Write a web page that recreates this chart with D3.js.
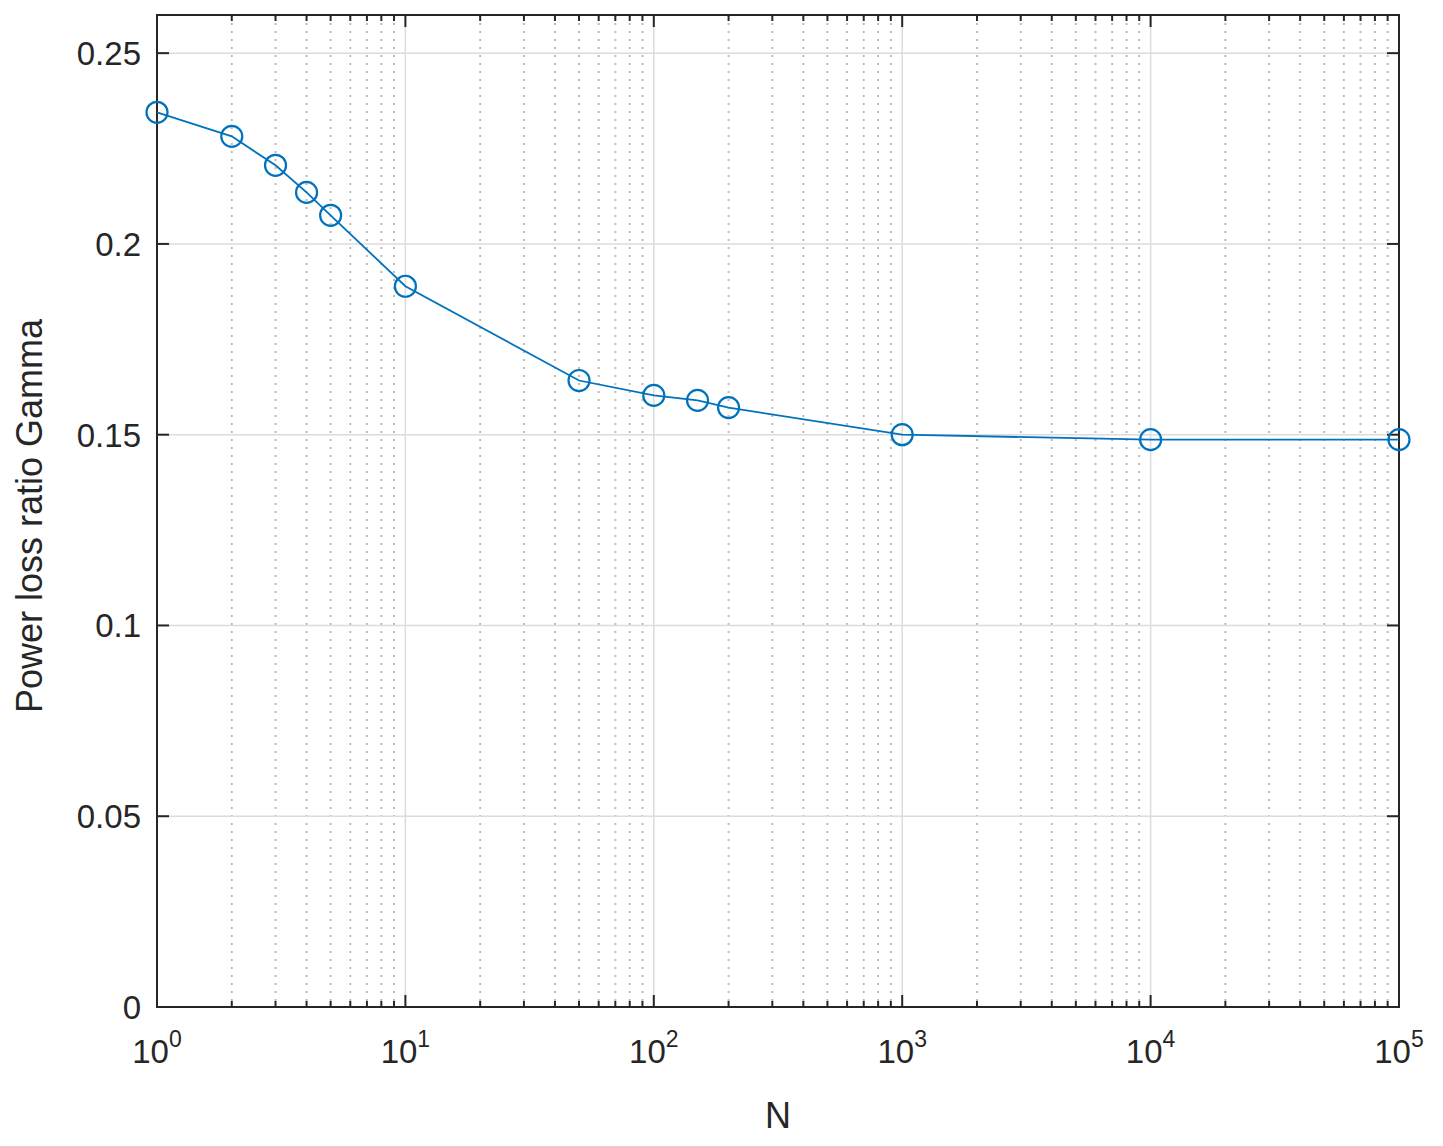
<!DOCTYPE html><html><head><meta charset="utf-8">
<script src="https://cdn.jsdelivr.net/npm/d3@7"></script>
<style>body{margin:0;background:#fff}text{font-family:"Liberation Sans",Arial,sans-serif;fill:#262626}</style></head><body>
<svg id="c" width="1443" height="1146"></svg>
<script>
const nValues=[1,2,3,4,5,10,50,100,150,200,1000,10000,100000];
const gammaValues=[0.2345,0.2282,0.2206,0.2135,0.2075,0.1889,0.1642,0.1603,0.1590,0.1571,0.1500,0.1487,0.1487];
const yTicks=[0,0.05,0.1,0.15,0.2,0.25];
const yTickLabels=["0","0.05","0.1","0.15","0.2","0.25"];
const xMajor=[1,10,100,1000,10000,100000];
const L=157,R=1399,T=15,B=1007;
const svg=d3.select("#c");
const x=d3.scaleLog().domain([1,1e5]).range([L,R]);
const y=d3.scaleLinear().domain([0,0.26]).range([B,T]);
const g=svg.append("g");
const minor=[];for(let e=0;e<5;e++)for(let k=2;k<=9;k++)minor.push(k*10**e);
g.selectAll(".mn").data(minor).join("line").attr("x1",d=>x(d)).attr("x2",d=>x(d)).attr("y1",T).attr("y2",B).attr("stroke","#bbbbbb").attr("stroke-width",2).attr("stroke-dasharray","2,6");
g.selectAll(".mx").data(xMajor).join("line").attr("x1",d=>x(d)).attr("x2",d=>x(d)).attr("y1",T).attr("y2",B).attr("stroke","#dcdcdc").attr("stroke-width",1.5);
g.selectAll(".my").data(yTicks).join("line").attr("y1",d=>y(d)).attr("y2",d=>y(d)).attr("x1",L).attr("x2",R).attr("stroke","#dcdcdc").attr("stroke-width",1.5);
const tk=svg.append("g").attr("stroke","#262626").attr("stroke-width",2);
xMajor.forEach(v=>{tk.append("line").attr("x1",x(v)).attr("x2",x(v)).attr("y1",B).attr("y2",B-12);tk.append("line").attr("x1",x(v)).attr("x2",x(v)).attr("y1",T).attr("y2",T+12);});
minor.forEach(v=>{tk.append("line").attr("x1",x(v)).attr("x2",x(v)).attr("y1",B).attr("y2",B-6);tk.append("line").attr("x1",x(v)).attr("x2",x(v)).attr("y1",T).attr("y2",T+6);});
yTicks.forEach(v=>{tk.append("line").attr("y1",y(v)).attr("y2",y(v)).attr("x1",L).attr("x2",L+12);tk.append("line").attr("y1",y(v)).attr("y2",y(v)).attr("x1",R).attr("x2",R-12);});
svg.append("rect").attr("x",L).attr("y",T).attr("width",R-L).attr("height",B-T).attr("fill","none").attr("stroke","#262626").attr("stroke-width",2);
yTicks.forEach((v,i)=>svg.append("text").attr("x",L-16).attr("y",y(v)+12).attr("text-anchor","end").attr("font-size",33).text(yTickLabels[i]));
xMajor.forEach((v,i)=>{const t=svg.append("text").attr("x",x(v)).attr("y",B+56).attr("text-anchor","middle").attr("font-size",33);t.append("tspan").text("10");t.append("tspan").attr("dy",-16).attr("font-size",23).text(String(i));});
svg.append("text").attr("x",(L+R)/2).attr("y",1128).attr("text-anchor","middle").attr("font-size",36).text("N");
svg.append("text").attr("transform",`translate(42,${(T+B)/2+5}) rotate(-90)`).attr("text-anchor","middle").attr("font-size",36).text("Power loss ratio Gamma");
const pts=nValues.map((n,i)=>[n,gammaValues[i]]);
svg.append("path").datum(pts).attr("d",d3.line().x(d=>x(d[0])).y(d=>y(d[1]))).attr("fill","none").attr("stroke","#0072BD").attr("stroke-width",1.8);
svg.selectAll(".pt").data(pts).join("circle").attr("cx",d=>x(d[0])).attr("cy",d=>y(d[1])).attr("r",10.5).attr("fill","none").attr("stroke","#0072BD").attr("stroke-width",2.2);
</script></body></html>
